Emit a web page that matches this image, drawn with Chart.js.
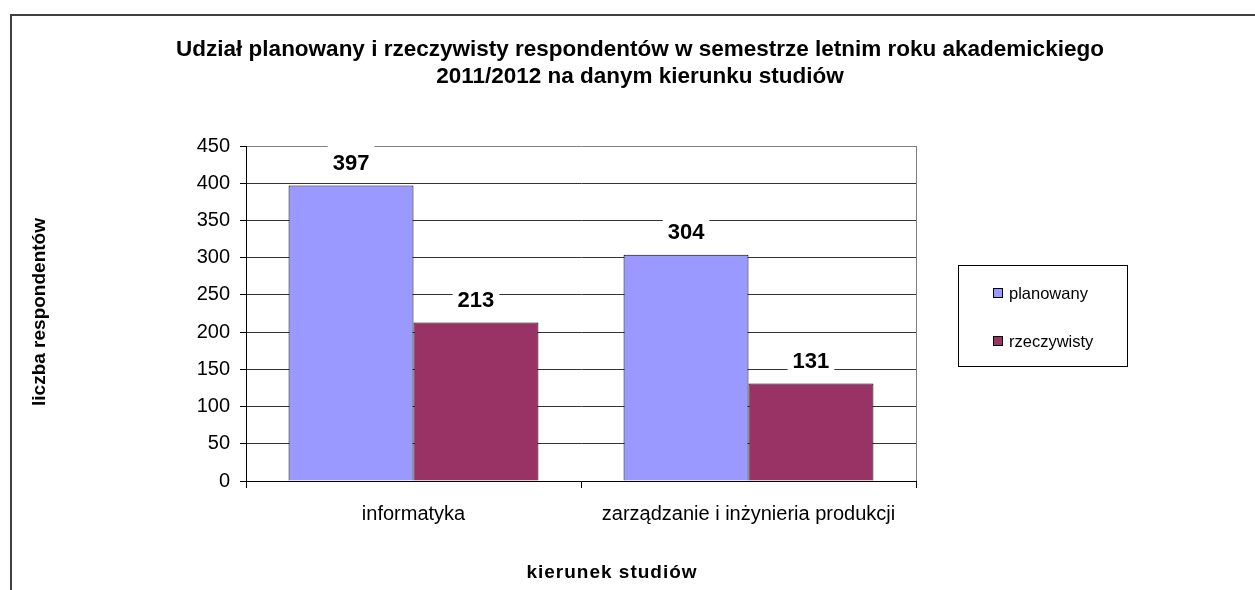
<!DOCTYPE html>
<html>
<head>
<meta charset="utf-8">
<script src="https://cdn.jsdelivr.net/npm/chart.js@4.4.0/dist/chart.umd.min.js"></script>
<style>
  html, body { margin: 0; padding: 0; background: #fff; }
  #wrap { position: relative; width: 1255px; height: 590px; }
</style>
</head>
<body>
<div id="wrap"><canvas id="c" width="1255" height="590"></canvas></div>
<script>
// Dane wykresu
const kierunki = ['informatyka', 'zarządzanie i inżynieria produkcji'];
const planowany = [397, 304];
const rzeczywisty = [213, 131];
const tytul = ['Udział planowany i rzeczywisty respondentów w semestrze letnim roku akademickiego',
               '2011/2012 na danym kierunku studiów'];
const tytulOsiY = 'liczba respondentów';
const tytulOsiX = 'kierunek studiów';

const FONT = "'Liberation Sans', Arial, sans-serif";

// Plugin: ramka, tytuły, etykiety danych, legenda
const dekoracje = {
    id: 'dekoracje',
    beforeDraw(chart) {
        const ctx = chart.ctx;
        ctx.save();
        ctx.fillStyle = '#fff';
        ctx.fillRect(0, 0, chart.width, chart.height);
        // zewnętrzna ramka
        ctx.strokeStyle = '#404040';
        ctx.lineWidth = 2;
        ctx.beginPath();
        ctx.moveTo(11, 600);
        ctx.lineTo(11, 15);
        ctx.lineTo(1260, 15);
        ctx.stroke();
        ctx.restore();
    },
    afterDatasetsDraw(chart) {
        const ctx = chart.ctx;
        const a = chart.chartArea;
        ctx.save();
        // szara ramka obszaru wykresu (prawa)
        ctx.strokeStyle = '#808080';
        ctx.lineWidth = 1;
        ctx.beginPath();
        ctx.moveTo(Math.round(a.right) + 0.5, a.top);
        ctx.lineTo(Math.round(a.right) + 0.5, a.bottom);
        ctx.stroke();

        // etykiety danych
        ctx.font = 'bold 22px ' + FONT;
        ctx.textAlign = 'center';
        ctx.textBaseline = 'middle';
        chart.data.datasets.forEach((ds, i) => {
            chart.getDatasetMeta(i).data.forEach((bar, j) => {
                const txt = String(ds.data[j]);
                const w = ctx.measureText(txt).width + 10;
                const cy = bar.y - 22.5;
                ctx.fillStyle = '#fff';
                ctx.fillRect(bar.x - w / 2, cy - 19, w, 38);
                ctx.fillStyle = '#000';
                ctx.fillText(txt, bar.x, cy + 1);
            });
        });

        // tytuł
        ctx.font = 'bold 22.5px ' + FONT;
        ctx.textBaseline = 'alphabetic';
        ctx.fillText(tytul[0], 640, 56);
        ctx.fillText(tytul[1], 640, 83);

        // tytuły osi
        ctx.font = 'bold 19px ' + FONT;
        ctx.textBaseline = 'middle';
        ctx.save();
        ctx.translate(40, 312);
        ctx.rotate(-Math.PI / 2);
        ctx.fillText(tytulOsiY, 0, 0);
        ctx.restore();
        ctx.letterSpacing = '1px';
        ctx.fillText(tytulOsiX, 612, 573);
        ctx.letterSpacing = '0px';

        // legenda
        ctx.strokeStyle = '#000';
        ctx.lineWidth = 1;
        ctx.strokeRect(958.5, 265.5, 169, 101);
        ctx.font = '16.5px ' + FONT;
        ctx.textAlign = 'left';
        const ys = [293, 341];
        chart.data.datasets.forEach((ds, i) => {
            ctx.fillStyle = ds.backgroundColor;
            ctx.fillRect(993, ys[i] - 5, 10, 10);
            ctx.strokeRect(993.5, ys[i] - 4.5, 9, 9);
            ctx.fillStyle = '#000';
            ctx.fillText(ds.label, 1009, ys[i] + 1);
        });
        ctx.restore();
    }
};

new Chart(document.getElementById('c'), {
    type: 'bar',
    data: {
        labels: kierunki,
        datasets: [
            { label: 'planowany', data: planowany, backgroundColor: '#9999FF', borderColor: '#000', borderWidth: 1 },
            { label: 'rzeczywisty', data: rzeczywisty, backgroundColor: '#993366', borderColor: '#000', borderWidth: 1 }
        ]
    },
    options: {
        responsive: false,
        animation: false,
        events: [],
        layout: { padding: { left: 0, top: 146, right: 339, bottom: 0 } },
        datasets: { bar: { categoryPercentage: 0.746, barPercentage: 1.0 } },
        plugins: { legend: { display: false }, title: { display: false }, tooltip: { enabled: false } },
        scales: {
            x: {
                afterFit(scale) { scale.height = 109; },
                grid: { drawOnChartArea: false, tickLength: 7, color: '#000', offset: true },
                border: { color: '#000', width: 1 },
                ticks: { color: '#000', font: { family: FONT, size: 20 }, padding: 14, maxRotation: 0 }
            },
            y: {
                min: 0,
                max: 450,
                afterFit(scale) { scale.width = 246; },
                grid: {
                    tickLength: 6,
                    color: ctx => (ctx.tick && ctx.tick.value === 450) ? '#808080' : '#333',
                    tickColor: '#000'
                },
                border: { color: '#000', width: 1 },
                ticks: { stepSize: 50, color: '#000', font: { family: FONT, size: 20 }, padding: 10 }
            }
        }
    },
    plugins: [dekoracje]
});
</script>
</body>
</html>
